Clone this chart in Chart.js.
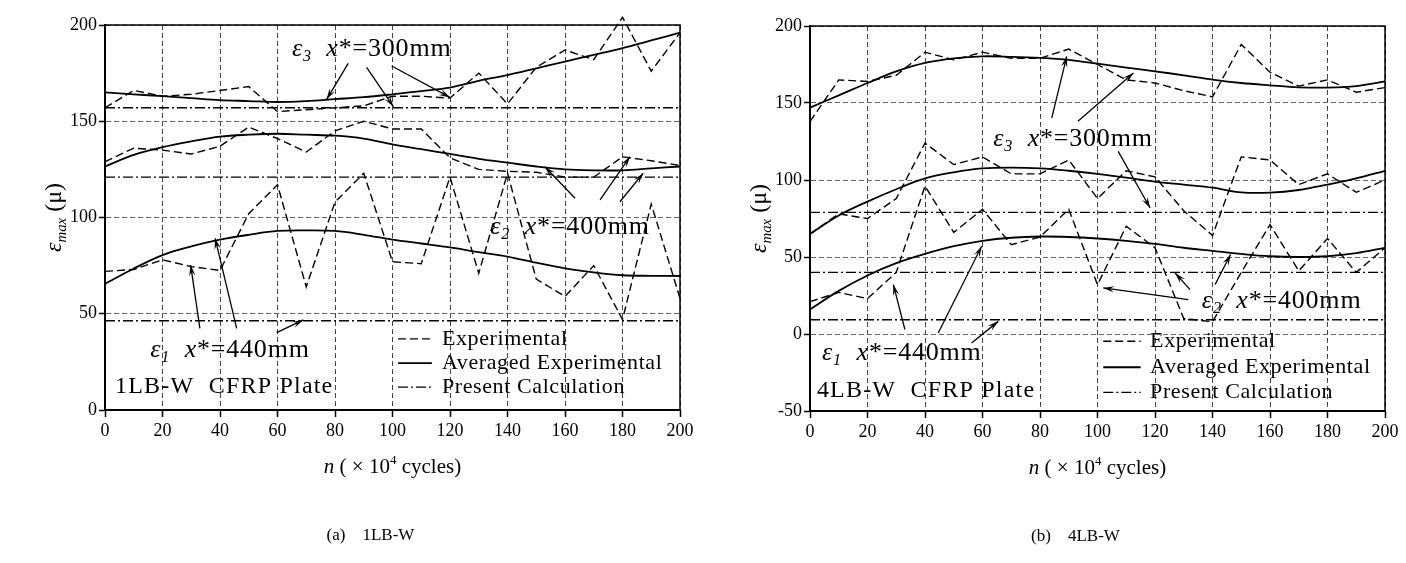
<!DOCTYPE html>
<html>
<head>
<meta charset="utf-8">
<script src="https://cdn.jsdelivr.net/npm/chart.js@4.4.1/dist/chart.umd.min.js"></script>
<style>
  body { margin: 0; background: #fff; width: 1406px; height: 563px; overflow: hidden; position: relative; }
  .panel { position: absolute; top: 0; width: 703px; height: 563px; }
</style>
</head>
<body>
<div class="panel" style="left:0"><canvas id="chartA"></canvas></div>
<div class="panel" style="left:703px"><canvas id="chartB"></canvas></div>
<script>
// load cycles, x 10^4
const nList = [0, 10, 20, 30, 40, 50, 60, 70, 80, 90, 100, 110, 120, 130, 140, 150, 160, 170, 180, 190, 200];

// (a) 1LB-W
const expA3 = [157, 166, 163, 164, 166, 168, 155, 156, 157, 158, 163, 163, 162, 175, 159, 178, 187, 182, 204, 176, 196];
const avgA3 = [165, 164, 163, 162, 161, 160.5, 160, 160.5, 161.5, 162.5, 164, 165.7, 167.5, 171, 174, 177.5, 181, 184.5, 188, 192, 196];
const expA2 = [129, 136, 135, 133, 137, 147, 141, 134, 145, 150, 146, 146, 131, 125, 124, 123.5, 121, 121, 131.5, 129.5, 127];
const avgA2 = [126.5, 132.5, 136.5, 139.5, 142, 143, 143.5, 143, 142.5, 141, 138, 135.5, 133, 130.5, 128.5, 126.5, 125, 124.5, 124.5, 125.5, 126.5];
const expA1 = [72, 73, 78, 74.5, 72.5, 102, 117, 64, 108, 123, 77, 76, 121, 71, 123, 68, 59, 75, 47, 107, 58];
const avgA1 = [65.5, 73.5, 80.5, 85, 88.5, 91, 93, 93.3, 93, 91, 88.5, 86.5, 84.5, 82, 79.7, 76.5, 73.6, 71.5, 70, 69.7, 69.6];
const calcA = [157, 121, 46.4];   // eps3, eps2, eps1

// (b) 4LB-W
const expB3 = [138, 165, 164, 168, 183, 178, 183, 179, 179, 185, 175, 165, 163, 158, 154, 188, 170, 161, 165, 157, 160];
const avgB3 = [147, 155, 163, 170.5, 176, 179, 180.3, 180, 179.3, 178, 175.5, 173, 170.6, 168, 165.2, 163, 161.5, 160.2, 160, 161, 164];
const expB2 = [65, 78, 75, 88, 124, 110, 115, 104, 104, 113, 88, 106, 102, 80, 64, 115, 113, 97, 104, 92, 100];
const avgB2 = [65, 77, 86, 94, 101, 105, 107.5, 108, 107.5, 106, 104, 101.5, 99, 97, 95, 92, 91.8, 93.5, 97, 101, 106];
const expB1 = [21, 27, 23, 40, 96, 66, 81, 58, 63, 81, 32, 70, 56, 10, 8, 40, 71, 41, 62, 40, 56];
const avgB1 = [16, 28, 38, 46, 52, 57, 60.5, 62.5, 63.3, 63, 62, 60.5, 58.5, 56, 54, 52, 50.5, 50, 50.5, 52.5, 56];
const calcB = [79, 40, 9.3];

const yTicksA = [0, 200];
const yTicksB = [-50, 200];
const legendText = ["Experimental", "Averaged Experimental", "Present Calculation"];

const SERIF = '"Liberation Serif", "Times New Roman", serif';
const EXP_DASH = [8, 4];
const CALC_DASH = [10, 3, 2, 3];

function pts(arr) {
  return nList.map((n, i) => ({ x: n, y: arr[i] }));
}

// text with italic / sub / sup pieces: [text, style]
function rich(ctx, parts, x, y, size, align) {
  const fontOf = (st) => {
    const small = st.includes("sub") || st.includes("sup");
    const s = small ? size * 0.62 : size;
    return (st.includes("i") ? "italic " : "") + s + "px " + SERIF;
  };
  let w = 0;
  parts.forEach(([t, st = ""]) => { ctx.font = fontOf(st); w += ctx.measureText(t).width; });
  let cx = align === "center" ? x - w / 2 : x;
  ctx.textAlign = "left";
  ctx.textBaseline = "middle";
  parts.forEach(([t, st = ""]) => {
    ctx.font = fontOf(st);
    let dy = 0;
    if (st.includes("sub")) dy = size * 0.3;
    if (st.includes("sup")) dy = -size * 0.32;
    ctx.fillText(t, cx, y + dy);
    cx += ctx.measureText(t).width;
  });
}

function arrow(ctx, x1, y1, x2, y2) {
  ctx.beginPath();
  ctx.moveTo(x1, y1);
  ctx.lineTo(x2, y2);
  ctx.stroke();
  const a = Math.atan2(y2 - y1, x2 - x1), L = 11, W = 3.2;
  const c = Math.cos(a), s = Math.sin(a);
  ctx.beginPath();
  ctx.moveTo(x2, y2);
  ctx.lineTo(x2 - L * c + W * s, y2 - L * s - W * c);
  ctx.lineTo(x2 - 0.6 * L * c, y2 - 0.6 * L * s);
  ctx.lineTo(x2 - L * c - W * s, y2 - L * s + W * c);
  ctx.closePath();
  ctx.fill();
}

const overlay = {
  id: "overlay",
  afterDraw(chart, args, o) {
    const { ctx, chartArea: a } = chart;
    const X = (v) => chart.scales.x.getPixelForValue(v);
    const Y = (v) => chart.scales.y.getPixelForValue(v);
    ctx.save();
    ctx.fillStyle = "#000";
    ctx.strokeStyle = "#000";

    // top / right frame
    ctx.lineWidth = 1.5;
    ctx.beginPath();
    ctx.moveTo(a.left, a.top);
    ctx.lineTo(a.right, a.top);
    ctx.lineTo(a.right, a.bottom);
    ctx.stroke();

    // curve labels + arrows
    ctx.lineWidth = 1.3;
    o.notes.forEach((nt) => {
      ctx.letterSpacing = "0.8px";
      rich(ctx, [["ε", "i"], [nt.k, "isub"], ["  "], ["x", "i"], [nt.label]], X(nt.at[0]), Y(nt.at[1]), 26);
      ctx.letterSpacing = "0px";
      nt.arrows.forEach((r) => arrow(ctx, X(r[0]), Y(r[1]), X(r[2]), Y(r[3])));
    });
    ctx.font = "24px " + SERIF;
    ctx.letterSpacing = "1.2px";
    ctx.textAlign = "left";
    ctx.textBaseline = "middle";
    ctx.fillText(o.plate, X(o.plateAt[0]), Y(o.plateAt[1]));

    // legend
    const styles = [EXP_DASH, [], CALC_DASH];
    ctx.letterSpacing = "0.6px";
    legendText.forEach((t, i) => {
      const yy = Y(o.legY[i]);
      ctx.setLineDash(styles[i]);
      ctx.lineWidth = i === 1 ? 1.8 : 1.3;
      ctx.beginPath();
      ctx.moveTo(X(o.legX[0]), yy);
      ctx.lineTo(X(o.legX[1]), yy);
      ctx.stroke();
      ctx.setLineDash([]);
      ctx.font = "22px " + SERIF;
      ctx.fillText(t, X(o.legX[2]), yy);
    });
    ctx.letterSpacing = "0px";

    // axis titles
    ctx.save();
    ctx.translate(a.left - 50, (a.top + a.bottom) / 2);
    ctx.rotate(-Math.PI / 2);
    rich(ctx, [["ε", "i"], ["max", "isub"], [" (μ)"]], 0, 0, 24, "center");
    ctx.restore();
    const cxm = (a.left + a.right) / 2;
    rich(ctx, [["n", "i"], [" ( × 10"], ["4", "sup"], [" cycles)"]], cxm, a.bottom + 57, 21, "center");
    ctx.font = "17px " + SERIF;
    ctx.textAlign = "center";
    ctx.fillText(o.caption, cxm - 22, a.bottom + 126);
    ctx.restore();
  }
};

function buildPanel(id, d) {
  const line = (arr, kind) => ({
    data: pts(arr),
    borderColor: "#000",
    borderWidth: kind === "avg" ? 1.8 : 1.4,
    borderDash: kind === "exp" ? EXP_DASH : [],
    tension: kind === "avg" ? 0.35 : 0,
    pointRadius: 0,
    clip: false
  });
  const calc = (v) => ({
    data: [{ x: nList[0], y: v }, { x: nList[nList.length - 1], y: v }],
    borderColor: "#000",
    borderWidth: 1.4,
    borderDash: CALC_DASH,
    pointRadius: 0
  });
  const datasets = [];
  d.exp.forEach((arr) => datasets.push(line(arr, "exp")));
  d.avg.forEach((arr) => datasets.push(line(arr, "avg")));
  d.calc.forEach((v) => datasets.push(calc(v)));

  const tickFont = { family: SERIF, size: 18 };
  return new Chart(document.getElementById(id), {
    type: "line",
    data: { datasets },
    options: {
      responsive: true,
      maintainAspectRatio: false,
      animation: false,
      layout: { padding: { left: 0, right: d.padRight, top: d.padTop, bottom: 0 } },
      plugins: { legend: { display: false }, tooltip: { enabled: false }, overlay: d },
      scales: {
        x: {
          type: "linear",
          min: 0, max: 200,
          afterFit: (s) => { s.height = d.xH; },
          ticks: { stepSize: 20, color: "#000", font: tickFont, maxRotation: 0, autoSkip: false, padding: 3 },
          grid: { color: "#444", lineWidth: 1, tickLength: 7, tickColor: "#000", tickWidth: 1.5 },
          border: { color: "#000", width: 2, dash: [5, 3] }
        },
        y: {
          min: d.yRange[0], max: d.yRange[1],
          afterFit: (s) => { s.width = d.yW; },
          ticks: { stepSize: 50, color: "#000", font: tickFont, padding: 2 },
          grid: { color: "#666", lineWidth: 1, tickLength: 6, tickColor: "#000", tickWidth: 1.5 },
          border: { color: "#000", width: 2, dash: [5, 3] }
        }
      }
    },
    plugins: [overlay]
  });
}

buildPanel("chartA", {
  exp: [expA3, expA2, expA1],
  avg: [avgA3, avgA2, avgA1],
  calc: calcA,
  yRange: yTicksA,
  yW: 105, xH: 153, padRight: 23, padTop: 25,
  notes: [
    { k: "3", label: "*=300mm", at: [65, 187.5],
      arrows: [[84.6, 180.1, 77.1, 161.4], [91, 178, 100.3, 157.6], [99.7, 178.7, 120, 162.4]] },
    { k: "2", label: "*=400mm", at: [134, 95],
      arrows: [[163.5, 110, 153, 126.4], [172.2, 109.1, 182.6, 131.6], [179.1, 108.2, 187.2, 123]] },
    { k: "1", label: "*=440mm", at: [15.7, 31.2],
      arrows: [[33, 42.4, 29.8, 75.3], [45.8, 42.4, 38.3, 89.2], [59.7, 40.2, 69, 46.8]] }
  ],
  plate: "1LB-W  CFRP Plate", plateAt: [3.5, 12],
  legX: [101.9, 113.7, 117.2], legY: [36.9, 24.4, 11.9],
  caption: "(a)    1LB-W"
});

buildPanel("chartB", {
  exp: [expB3, expB2, expB1],
  avg: [avgB3, avgB2, avgB1],
  calc: calcB,
  yRange: yTicksB,
  yW: 107, xH: 152, padRight: 21, padTop: 26,
  notes: [
    { k: "3", label: "*=300mm", at: [63.7, 126.4],
      arrows: [[84.1, 140.3, 89.3, 180.3], [93.2, 138.1, 112.5, 169.5], [107.2, 118.6, 118.3, 81.8]] },
    { k: "2", label: "*=400mm", at: [136.3, 21.2],
      arrows: [[131.6, 22.3, 102, 29.9], [140.9, 32.1, 146.3, 51.6], [132.2, 28.8, 127, 39.6]] },
    { k: "1", label: "*=440mm", at: [4.2, -12.5],
      arrows: [[33, 2.9, 29, 32.1], [44.6, 0.6, 59.7, 57], [56.2, -5.8, 65.5, 8.2]] }
  ],
  plate: "4LB-W  CFRP Plate", plateAt: [2.4, -36.5],
  legX: [102, 115, 118.3], legY: [-4.7, -21.6, -37.9],
  caption: "(b)    4LB-W"
});
</script>
</body>
</html>
